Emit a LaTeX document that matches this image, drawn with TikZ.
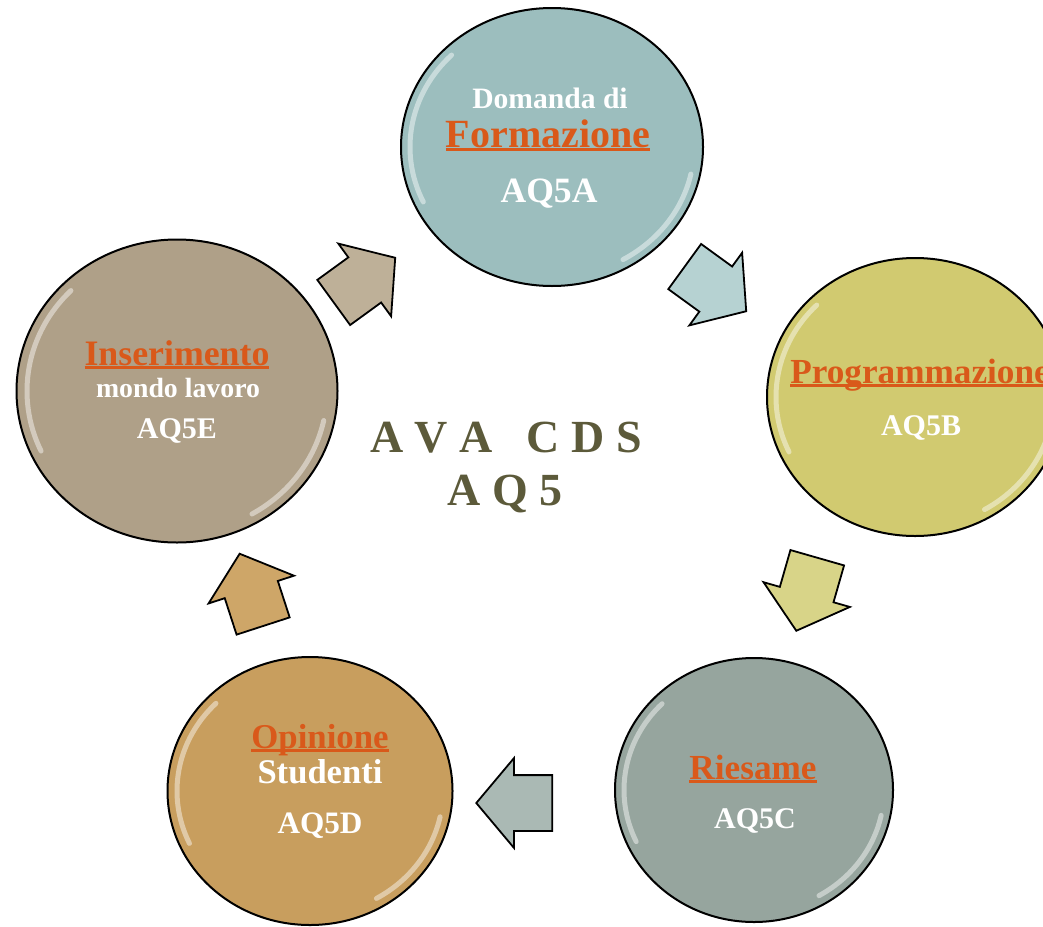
\documentclass[tikz,border=0pt]{standalone}
\usepackage{fontspec}
\setmainfont{Liberation Serif}
\usepackage{xcolor}
\usetikzlibrary{shapes.geometric,shapes.arrows}
\definecolor{colA}{RGB}{156,190,190}
\definecolor{colB}{RGB}{209,202,112}
\definecolor{colC}{RGB}{150,165,158}
\definecolor{colD}{RGB}{200,158,94}
\definecolor{colE}{RGB}{175,160,136}
\definecolor{arrA}{RGB}{182,210,210}
\definecolor{arrB}{RGB}{216,212,136}
\definecolor{arrC}{RGB}{170,185,180}
\definecolor{arrD}{RGB}{206,166,104}
\definecolor{arrE}{RGB}{190,176,152}
\definecolor{hot}{RGB}{217,89,26}
\definecolor{olive}{RGB}{92,90,58}
\newcommand{\hotline}[1]{\setbox0=\hbox{#1}\rlap{\rule[-2pt]{\wd0}{1.4pt}}\box0}
\tikzset{ball/.style={ellipse,draw=black,line width=1pt,inner sep=0},
  blockarrow/.style={single arrow,draw=black,line width=0.9pt,inner xsep=0,inner ysep=13.5pt,minimum height=38pt,single arrow head extend=8.5pt,single arrow tip angle=100},
  gloss/.style={white,opacity=0.45,line width=2.5pt,line cap=round},
  txt/.style={text=white,inner sep=0,anchor=base},
  head/.style={txt,text=hot}}

\begin{document}
\begin{tikzpicture}[x=0.5pt,y=-0.5pt]
\useasboundingbox (0,0) rectangle (1043,926);
% circles
\node[ball,fill=colA,minimum width=151pt,minimum height=139pt](fa) at (552,147) {};
\node[ball,fill=colB,minimum width=148pt,minimum height=139pt](fb) at (915,397) {};
\node[ball,fill=colC,minimum width=139pt,minimum height=132pt](fc) at (754,790) {};
\node[ball,fill=colD,minimum width=142.5pt,minimum height=134pt](fd) at (310,791) {};
\node[ball,fill=colE,minimum width=160.5pt,minimum height=151.5pt](fe) at (177,391) {};
\foreach \n/\rx/\ry in {fa/71/65,fb/69.5/65,fc/65/61,fd/66.5/62,fe/75/71}{
  \draw[gloss] (\n.center) ++(135:\rx pt and \ry pt) arc[start angle=135,end angle=205,x radius=\rx pt,y radius=\ry pt];
  \draw[gloss] (\n.center) ++(-60:\rx pt and \ry pt) arc[start angle=-60,end angle=-12,x radius=\rx pt,y radius=\ry pt];
}
% arrows
\node[blockarrow,fill=arrA,rotate=-36](ab) at (706,282) {};
\node[blockarrow,fill=arrB,rotate=-106](bc) at (810,583) {};
\node[blockarrow,fill=arrC,rotate=180](cd) at (526,803) {};
\node[blockarrow,fill=arrD,rotate=108](de) at (255,601) {};
\node[blockarrow,fill=arrE,rotate=36](ea) at (355,287) {};
% texts
\node[txt,font=\bfseries\fontsize{14.8pt}{18pt}\selectfont](ta1) at (550,108) {Domanda di};
\node[head,font=\bfseries\fontsize{20pt}{24pt}\selectfont](ta2) at (548,147) {\hotline{Formazione}};
\node[txt,font=\bfseries\fontsize{17.8pt}{21pt}\selectfont](ta3) at (549,202) {AQ5A};
\node[head,font=\bfseries\fontsize{17.6pt}{21pt}\selectfont](tb1) at (920,383) {\hotline{Programmazione}};
\node[txt,font=\bfseries\fontsize{15pt}{18pt}\selectfont](tb2) at (921,435) {AQ5B};
\node[head,font=\bfseries\fontsize{17.6pt}{21pt}\selectfont](tc1) at (753,779) {\hotline{Riesame}};
\node[txt,font=\bfseries\fontsize{15pt}{18pt}\selectfont](tc2) at (755,828) {AQ5C};
\node[head,font=\bfseries\fontsize{17.4pt}{21pt}\selectfont](td1) at (320,748) {\hotline{Opinione}};
\node[txt,font=\bfseries\fontsize{17.3pt}{21pt}\selectfont](td2) at (320,783) {Studenti};
\node[txt,font=\bfseries\fontsize{15.6pt}{19pt}\selectfont](td3) at (320,833) {AQ5D};
\node[head,font=\bfseries\fontsize{17.9pt}{21pt}\selectfont](te1) at (177,365) {\hotline{Inserimento}};
\node[txt,font=\bfseries\fontsize{13.9pt}{17pt}\selectfont](te2) at (178,397) {mondo lavoro};
\node[txt,font=\bfseries\fontsize{15pt}{18pt}\selectfont](te3) at (177,438) {AQ5E};
% centre
\node[txt,text=olive,font=\bfseries\fontsize{23pt}{28pt}\selectfont](t1) at (506,452) {A V A\hspace{17pt}C D S};
\node[txt,text=olive,font=\bfseries\fontsize{23pt}{28pt}\selectfont](t2) at (505,505) {A Q 5};
\end{tikzpicture}
\end{document}
